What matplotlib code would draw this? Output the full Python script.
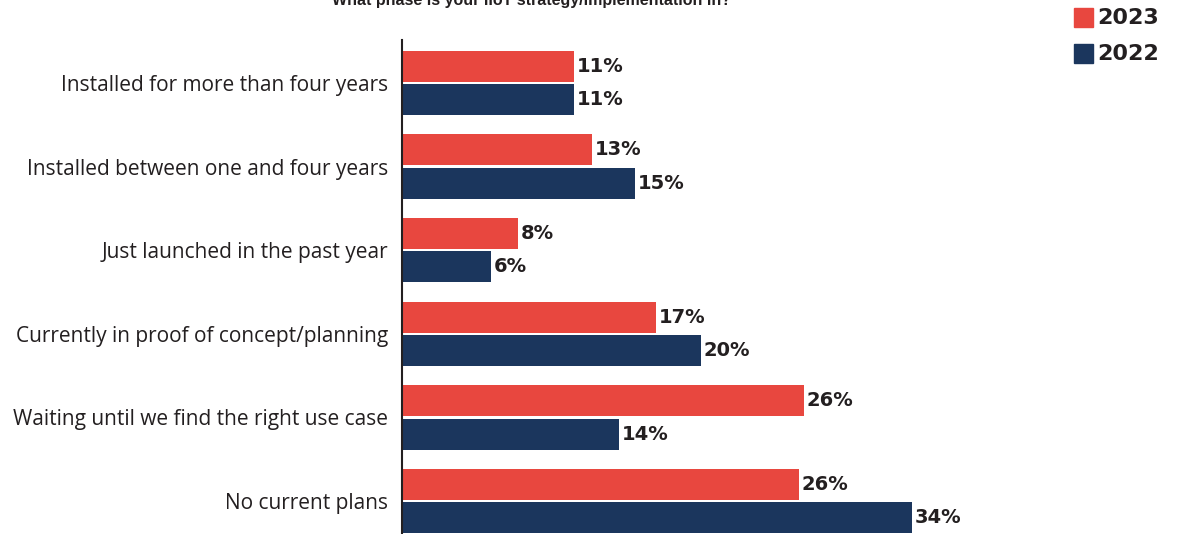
import matplotlib
matplotlib.use("Agg")
import matplotlib.pyplot as plt
from matplotlib.patches import Rectangle
import numpy as np

# survey answers, top to bottom
phases = ['Installed for more than four years',
          'Installed between one and four years',
          'Just launched in the past year',
          'Currently in proof of concept/planning',
          'Waiting until we find the right use case',
          'No current plans']
# bar lengths (%) and printed labels
vals_2023 = [11.4, 12.6, 7.7, 16.8, 26.6, 26.3]
vals_2022 = [11.4, 15.4, 5.9, 19.8, 14.4, 33.8]
labels_2023 = ['11%', '13%', '8%', '17%', '26%', '26%']
labels_2022 = ['11%', '15%', '6%', '20%', '14%', '34%']
years = ['2023', '2022']

RED = '#E8473F'
NAVY = '#1B365D'
INK = '#231F20'

fig = plt.figure(figsize=(11.87, 5.34), dpi=100)
ax = fig.add_axes([402/1187, 0.0, 600/1187, 494/534])

y = np.arange(len(phases))
h = 0.37
b1 = ax.barh(y - 0.2, vals_2023, height=h, color=RED)
b2 = ax.barh(y + 0.2, vals_2022, height=h, color=NAVY)

for bars, labs in ((b1, labels_2023), (b2, labels_2022)):
    for bar, lab in zip(bars, labs):
        ax.annotate(lab, (bar.get_width(), bar.get_y() + bar.get_height()/2),
                    xytext=(2, 0), textcoords='offset points',
                    va='center', ha='left', fontsize=14, fontweight='bold',
                    color=INK, family='DejaVu Sans')

ax.set_xlim(0, 600/15.1)
ax.set_ylim(5.395, -0.514)
ax.set_yticks(y)
ax.set_yticklabels(phases, fontsize=15, color=INK, family=['Open Sans', 'DejaVu Sans'])
ax.tick_params(axis='y', length=0, pad=10)
ax.set_xticks([])
for s in ['top', 'right', 'bottom']:
    ax.spines[s].set_visible(False)
ax.spines['left'].set_color(INK)
ax.spines['left'].set_linewidth(1.5)

# title, cut off at the top edge as in the original
fig.text(532/1187, 1 - 5/534, 'What phase is your IIoT strategy/implementation in?',
         ha='center', va='baseline', fontsize=11.5, fontweight='bold', color=INK,
         family=['Liberation Sans', 'DejaVu Sans'])

# legend
for i, (yr, col) in enumerate(zip(years, [RED, NAVY])):
    top = 8 + i*36
    fig.add_artist(Rectangle((1074/1187, 1 - (top + 19)/534), 19/1187, 19/534,
                             transform=fig.transFigure, color=col))
    fig.text(1097/1187, 1 - (top + 9.5)/534, yr, ha='left', va='center',
             fontsize=16, fontweight='bold', color=INK, family='DejaVu Sans')

fig.savefig('out.png', dpi=100)
